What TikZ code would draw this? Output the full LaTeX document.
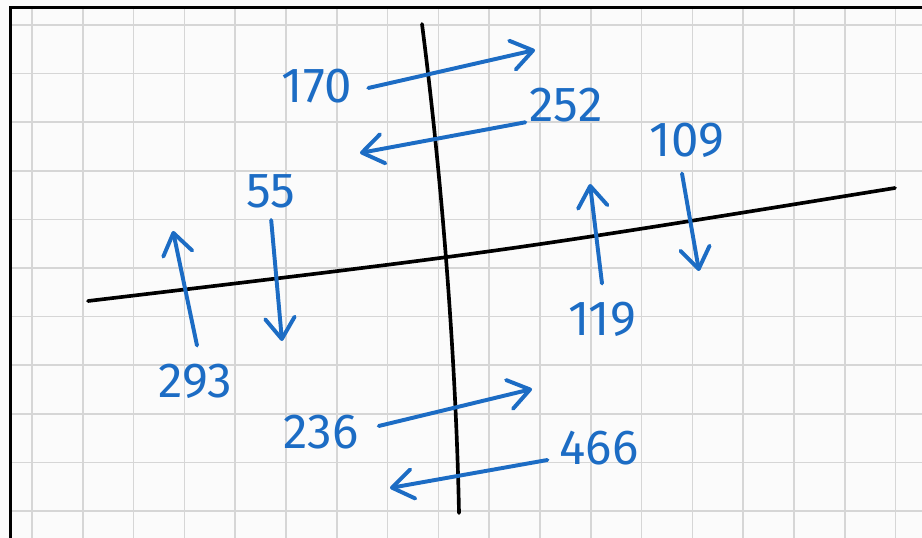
\documentclass[tikz,border=0pt]{standalone}
\usepackage{fontspec}
\setmainfont{Fira Sans}
\usepackage{tikz}
\usetikzlibrary{arrows.meta}

\definecolor{penblue}{RGB}{28,108,196}
\definecolor{gridgray}{RGB}{214,214,214}

\begin{document}
\begin{tikzpicture}[
			x=0.025cm, y=-0.025cm,
			num/.style={text=penblue, font=\fontsize{35}{35}\selectfont, inner sep=0pt},
			flow/.style={draw=penblue, line width=2.8pt, line cap=round,
				-{Straight Barb[length=15pt, width=21pt, line width=2.8pt, round]}},
			axis/.style={draw=black, line width=2.6pt, line cap=round},
			]
			
			%% ── Paper and grid ────────────────────────────────────────────────────
			\useasboundingbox (0,0) rectangle (922,538);
			\fill[white!97!gray] (0,0) rectangle (922,538);
			\foreach \i in {0,...,17}
				\draw[gridgray, line width=1.1pt] ({32+50.8*\i},9) -- ({32+50.8*\i},538);
			\foreach \j in {0,...,10}
				\draw[gridgray, line width=1.1pt] (12,{25+48.6*\j}) -- (922,{25+48.6*\j});
			\draw[black, line width=2.2pt] (10.5,538) -- (10.5,7.5) -- (922,7.5);
			
			%% ── Black lines ───────────────────────────────────────────────────────
			\coordinate (vtop) at (422,24);
			\coordinate (vbot) at (459,513);
			\coordinate (hleft) at (88,301);
			\coordinate (hright) at (895,188);
			\draw[axis] (vtop) .. controls (442,180) and (456,360) .. (vbot);
			\draw[axis] (hleft) .. controls (500,252) .. (hright);
			
			%% ── Numbers ───────────────────────────────────────────────────────────
			\node[num] (n170) at (317,86)  {170};
			\node[num] (n252) at (566,105) {252};
			\node[num] (n55)  at (271,191) {55};
			\node[num] (n293) at (195,381) {293};
			\node[num] (n119) at (602,319) {119};
			\node[num] (n109) at (687,140) {109};
			\node[num] (n236) at (321,432) {236};
			\node[num] (n466) at (599,448) {466};
			
			%% ── Arrow ends ────────────────────────────────────────────────────────
			\coordinate (a170) at (535,50);
			\coordinate (a252) at (360,153);
			\coordinate (a55)  at (282,341);
			\coordinate (a293) at (173,231);
			\coordinate (a119) at (590,184);
			\coordinate (a109) at (699,271);
			\coordinate (a236) at (532,389);
			\coordinate (a466) at (390,488);
			
			\draw[flow] (n170.east) ++(16,2) -- (a170);
			\draw[flow] (n252.south west) ++(-4,0) -- (a252);
			\draw[flow] (n55.south west) ++(25,12) -- (a55);
			\draw[flow] (n293.north) ++(2,-18) -- (a293);
			\draw[flow] (n119.north) ++(0,-18) -- (a119);
			\draw[flow] (n109.south) ++(-5,16) -- (a109);
			\draw[flow] (n236.east) ++(20,-6) -- (a236);
			\draw[flow] (n466.west) ++(-12,12) -- (a466);
			
		\end{tikzpicture}
\end{document}
